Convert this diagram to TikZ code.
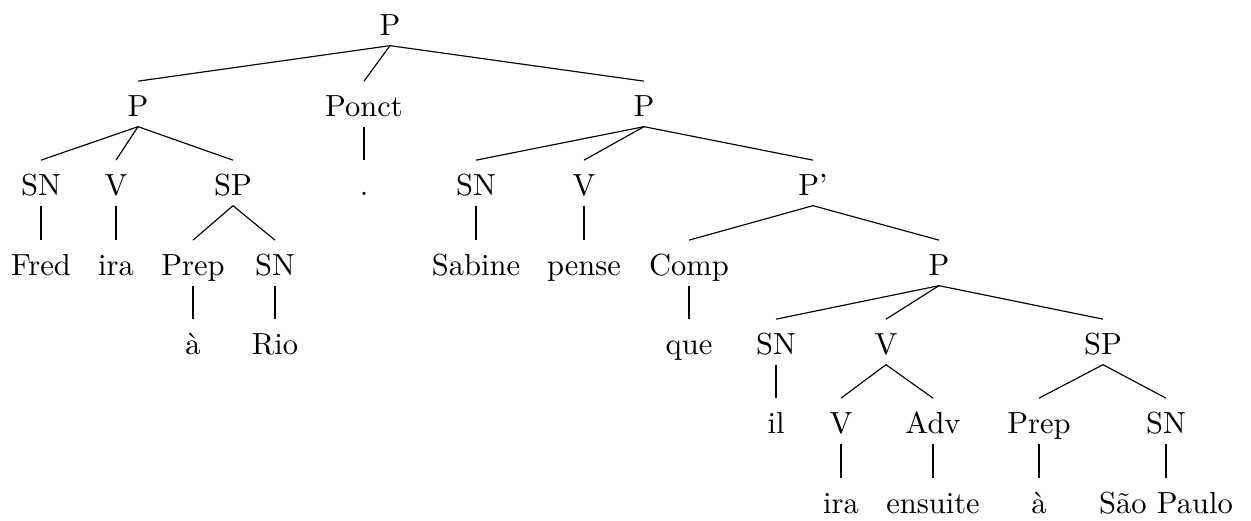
\documentclass[tikz,border=0pt]{standalone}
\usepackage{fontspec}
\begin{document}
\begin{tikzpicture}[x=0.34722pt,y=-0.34722pt,
  lab/.style={anchor=base,inner sep=0pt,outer sep=0pt,text height=12.1pt,text depth=3.7pt,font=\fontsize{10.6pt}{13pt}\selectfont},
  br/.style={line width=0.4pt}]
\useasboundingbox (0,0) rectangle (1251,520);
% row 0
\node[lab] (p0) at (390,35) {P};
% row 1
\node[lab] (pL) at (138,116) {P};
\node[lab] (ponct) at (364,116) {Ponct};
\node[lab] (pR) at (644,116) {P};
% row 2
\node[lab] (snL) at (41,195) {SN};
\node[lab] (vL) at (116,195) {V};
\node[lab] (spL) at (233,195) {SP};
\node[lab] (dot) at (364,195) {.};
\node[lab] (snR) at (476,195) {SN};
\node[lab] (vR) at (584,195) {V};
\node[lab] (pprime) at (813,195) {P’};
% row 3
\node[lab] (fred) at (41,275) {Fred};
\node[lab] (iraL) at (116,275) {ira};
\node[lab] (prepL) at (193,275) {Prep};
\node[lab] (snRio) at (275,275) {SN};
\node[lab] (sabine) at (476,275) {Sabine};
\node[lab] (pense) at (584,275) {pense};
\node[lab] (comp) at (689,275) {Comp};
\node[lab] (pE) at (939,275) {P};
% row 4
\node[lab] (aL) at (193,354) {à};
\node[lab] (rio) at (275,354) {Rio};
\node[lab] (que) at (689,354) {que};
\node[lab] (snE) at (776,354) {SN};
\node[lab] (vE) at (886,354) {V};
\node[lab] (spE) at (1103,354) {SP};
% row 5
\node[lab] (il) at (776,433) {il};
\node[lab] (vI) at (841,433) {V};
\node[lab] (adv) at (933,433) {Adv};
\node[lab] (prepE) at (1039,433) {Prep};
\node[lab] (snSP) at (1166,433) {SN};
% row 6
\node[lab] (iraE) at (841,513) {ira};
\node[lab] (ensuite) at (933,513) {ensuite};
\node[lab] (aE) at (1039,513) {à};
\node[lab] (sp) at (1166,513) {São Paulo};
% edges
\foreach \a/\b in {p0/pL,p0/ponct,p0/pR,
  pL/snL,pL/vL,pL/spL,ponct/dot,
  pR/snR,pR/vR,pR/pprime,
  snL/fred,vL/iraL,spL/prepL,spL/snRio,
  snR/sabine,vR/pense,pprime/comp,pprime/pE,
  prepL/aL,snRio/rio,comp/que,
  pE/snE,pE/vE,pE/spE,
  snE/il,vE/vI,vE/adv,spE/prepE,spE/snSP,
  vI/iraE,adv/ensuite,prepE/aE,snSP/sp}
  \draw[br] (\a.south) -- (\b.north);
\end{tikzpicture}
\end{document}
